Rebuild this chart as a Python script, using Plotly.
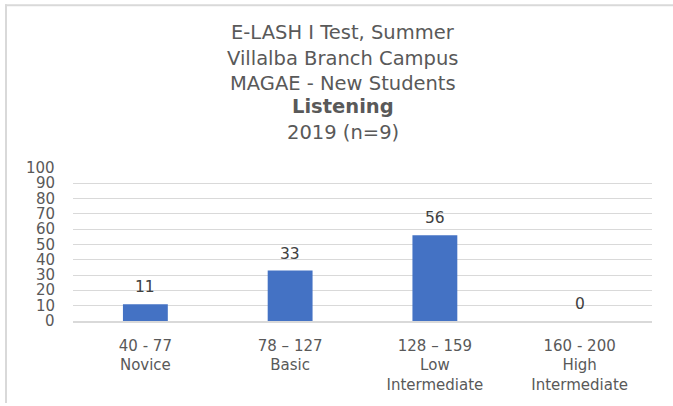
import plotly.graph_objects as go

# Listening results by score band
categories = ["40 - 77<br>Novice", "78 – 127<br>Basic", "128 – 159<br>Low<br>Intermediate",
              "160 - 200<br>High<br>Intermediate"]
percentages = [11, 33, 56, 0]
y_ticks = [0, 10, 20, 30, 40, 50, 60, 70, 80, 90, 100]
title_lines = ["E-LASH I Test, Summer", "Villalba Branch Campus", "MAGAE - New Students",
               "<b>Listening</b>", "2019 (n=9)"]

W, H = 673, 406
L, R, T, B = 73, 21, 168, 83
plot_w = W - L - R
plot_h = H - T - B

FONT = "DejaVu Sans"
GRAY = "#595959"


def px_to_paper_x(px):
    return (px - L) / plot_w


def px_to_paper_y(py):
    return (H - B - py) / plot_h


fig = go.Figure()
fig.add_trace(go.Bar(
    x=categories, y=percentages,
    marker=dict(color="#4472C4", line=dict(width=0)),
    width=0.31,
    hoverinfo="x+y",
))

# value labels above each bar
for c, v in zip(categories, percentages):
    fig.add_annotation(x=c, y=v, text=str(v), showarrow=False, yshift=17,
                       font=dict(family=FONT, size=15.5, color="#404040"))

# stacked title lines
title_y = [31, 57, 82, 106, 132]
for line, py in zip(title_lines, title_y):
    fig.add_annotation(xref="paper", yref="paper", x=px_to_paper_x(343), y=px_to_paper_y(py),
                       text=line, showarrow=False, xanchor="center", yanchor="middle",
                       font=dict(family=FONT, size=19.5, color=GRAY))

# value-axis labels, right-aligned beside each gridline
for t in y_ticks:
    fig.add_annotation(xref="paper", yref="y", x=px_to_paper_x(56), y=t, text=str(t),
                       showarrow=False, xanchor="right", yanchor="middle", borderpad=0,
                       font=dict(family=FONT, size=15, color=GRAY))

# chart border (left and top edges)
fig.add_shape(type="line", xref="paper", yref="paper",
              x0=px_to_paper_x(6), x1=px_to_paper_x(6),
              y0=px_to_paper_y(2), y1=px_to_paper_y(406),
              line=dict(color="#d9d9d9", width=2))
fig.add_shape(type="line", xref="paper", yref="paper",
              x0=px_to_paper_x(5), x1=px_to_paper_x(673),
              y0=px_to_paper_y(3), y1=px_to_paper_y(3),
              line=dict(color="#d9d9d9", width=2))

fig.update_layout(
    width=W, height=H,
    margin=dict(l=L, r=R, t=T, b=B, pad=0),
    paper_bgcolor="white", plot_bgcolor="white",
    showlegend=False,
    font=dict(family=FONT, color=GRAY),
    bargap=0.69,
)
fig.update_xaxes(
    showgrid=False, showline=True, linecolor="#d9d9d9", linewidth=1.5,
    tickfont=dict(family=FONT, size=15, color=GRAY),
    ticks="", ticklabelstandoff=10,
)
fig.update_yaxes(
    range=[0, 100], tickvals=y_ticks, showgrid=True, gridcolor="#d9d9d9", gridwidth=1,
    zeroline=False, showline=False, showticklabels=False,
)

fig.write_html("out.html")
